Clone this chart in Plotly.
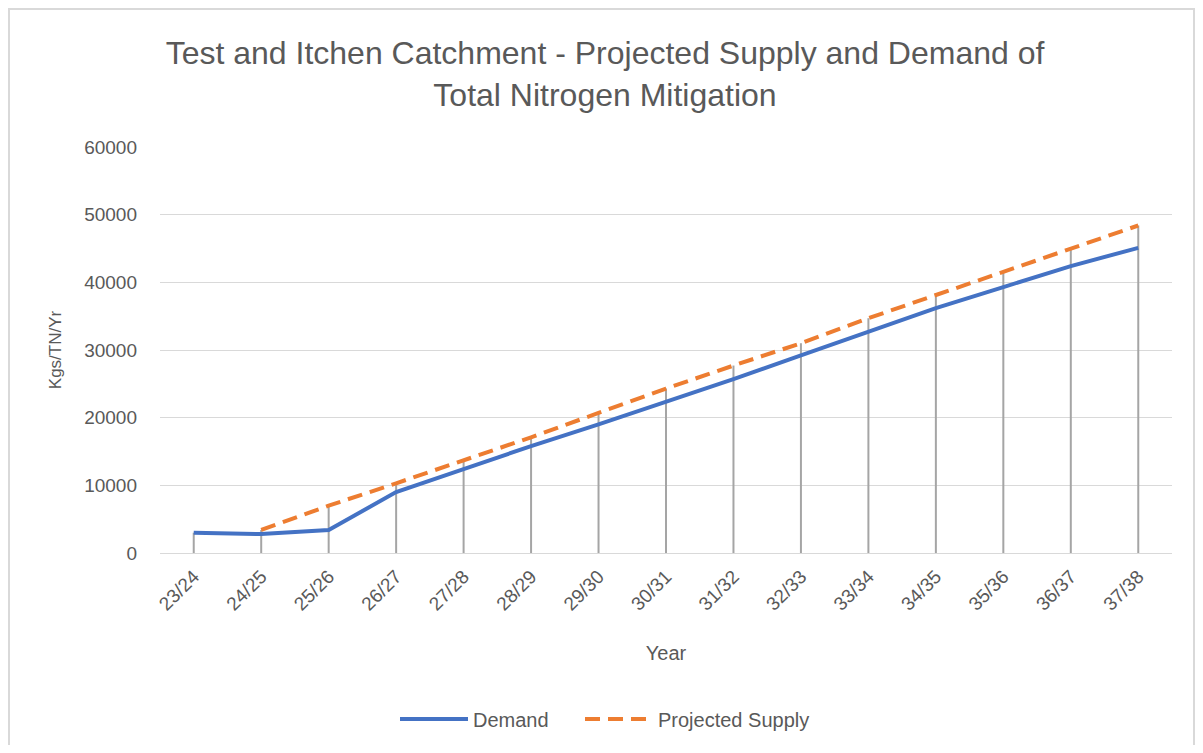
import plotly.graph_objects as go

years = ["23/24", "24/25", "25/26", "26/27", "27/28", "28/29", "29/30", "30/31",
         "31/32", "32/33", "33/34", "34/35", "35/36", "36/37", "37/38"]
demand = [3000, 2800, 3400, 9000, 12400, 15800, 19000, 22300, 25700, 29200,
          32700, 36200, 39300, 42400, 45100]
supply = [None, 3400, 7000, 10300, 13700, 17100, 20700, 24300, 27700, 31000,
          34700, 38100, 41600, 45000, 48400]
y_ticks = [0, 10000, 20000, 30000, 40000, 50000, 60000]

FONT = "Liberation Sans"
GREY_TXT = "#595959"

W, H = 1187, 737
ML, MR, MT, MB = 152, 23, 139, 192
PW, PH = W - ML - MR, H - MT - MB

# drop lines (Excel-style) from axis up to the highest series value
drop_x, drop_y = [], []
for i, c in enumerate(years):
    top = max(v for v in (demand[i], supply[i]) if v is not None)
    drop_x += [c, c, None]
    drop_y += [0, top, None]

fig = go.Figure()
fig.add_trace(go.Scatter(x=drop_x, y=drop_y, mode="lines",
                         line=dict(color="#A5A5A5", width=2),
                         showlegend=False, hoverinfo="skip"))
fig.add_trace(go.Scatter(x=years, y=demand, mode="lines", name="Demand",
                         line=dict(color="#4472C4", width=4), legend="legend"))
fig.add_trace(go.Scatter(x=years, y=supply, mode="lines", name="Projected Supply",
                         line=dict(color="#ED7D31", width=4, dash="15px,8px"),
                         legend="legend2"))

leg_common = dict(orientation="h", xanchor="left", xref="container",
                  y=26 / H, yanchor="middle", yref="container",
                  font=dict(size=20, color=GREY_TXT), itemwidth=68,
                  bgcolor="rgba(0,0,0,0)")

fig.update_layout(
    width=W, height=H,
    margin=dict(l=ML, r=MR, t=MT, b=MB),
    paper_bgcolor="white", plot_bgcolor="white",
    font=dict(family=FONT, color=GREY_TXT, size=19),
    title=dict(text="Test and Itchen Catchment - Projected Supply and Demand of<br>Total Nitrogen Mitigation",
               x=597 / W, xanchor="center", xref="container",
               y=1 - 56 / H, yanchor="top", yref="container",
               font=dict(family=FONT, size=32, color=GREY_TXT)),
    xaxis=dict(type="category", categoryorder="array", categoryarray=years,
               range=[-0.5, len(years) - 0.5], tickangle=-45,
               showgrid=False, showline=True, linecolor="#D9D9D9", linewidth=1,
               ticks="", ticklabelstandoff=4, tickfont=dict(size=19, color=GREY_TXT),
               title=dict(text="Year", font=dict(size=20, color=GREY_TXT), standoff=32)),
    yaxis=dict(range=[0, 60000], tickvals=y_ticks, ticktext=[str(v) for v in y_ticks],
               showgrid=True, gridcolor="#D9D9D9", gridwidth=1.3, zeroline=False,
               showline=False, ticks="", ticklabelstandoff=22,
               tickfont=dict(size=19, color=GREY_TXT),
               title=dict(text="Kgs/TN/Yr", font=dict(size=17, color=GREY_TXT), standoff=18)),
    legend=dict(x=387 / W, **leg_common),
    legend2=dict(x=572 / W, **leg_common),
    shapes=[dict(type="rect", xref="paper", yref="paper", layer="below",
                 x0=-(ML - 1) / PW, x1=(PW + MR - 1) / PW,
                 y0=-(MB + 20) / PH, y1=(PH + MT - 1) / PH,
                 line=dict(color="#D9D9D9", width=2), fillcolor="rgba(0,0,0,0)")],
)

fig.write_html("out.html")
